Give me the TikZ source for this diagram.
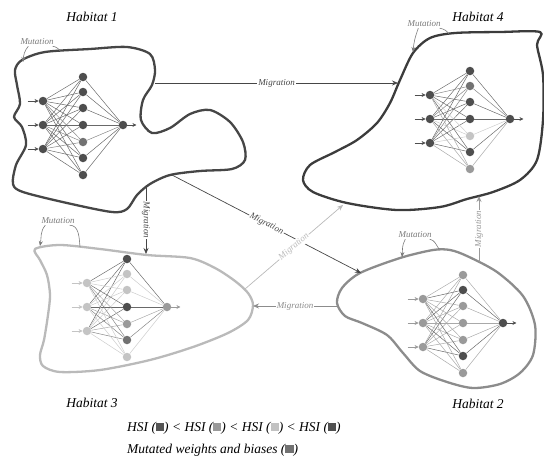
\documentclass[tikz,border=0pt]{standalone}
\usepackage{fontspec}
\setmainfont{Liberation Serif}
\usetikzlibrary{arrows.meta, positioning}

\definecolor{habone}{HTML}{464646}
\definecolor{habfour}{HTML}{3C3C3C}
\definecolor{habthree}{HTML}{BABABA}
\definecolor{habtwo}{HTML}{8C8C8C}
\definecolor{ndark}{HTML}{4E4E4E}
\definecolor{nmut}{HTML}{727272}
\definecolor{nmed}{HTML}{9A9A9A}
\definecolor{nlight}{HTML}{C4C4C4}
\definecolor{mutgray}{HTML}{7A7A7A}
\definecolor{hsiA}{HTML}{555555}
\definecolor{hsiB}{HTML}{9A9A9A}
\definecolor{hsiC}{HTML}{C2C2C2}
\definecolor{hsiD}{HTML}{505050}

\tikzstyle{habitat} = [line width=2.3pt, line join=round]
\tikzstyle{migration} = [line width=0.7pt, -{Stealth[length=6pt,width=5pt]}]
\tikzstyle{miglabel} = [fill=white, inner sep=1pt, font=\itshape\fontsize{9}{10}\selectfont]
\tikzstyle{mutlabel} = [text=mutgray, inner sep=1pt, font=\itshape\fontsize{9}{10}\selectfont]
\tikzstyle{mutarrow} = [mutgray, line width=0.6pt, -{Stealth[length=5pt,width=4pt]}]
\tikzstyle{mutline} = [mutgray, line width=0.6pt]
\tikzstyle{hablabel} = [font=\itshape\fontsize{13.5}{16}\selectfont]
\tikzstyle{legend} = [anchor=west, inner sep=0pt, font=\itshape\fontsize{13.5}{16}\selectfont]
\tikzstyle{neuron} = [circle, inner sep=0pt, minimum size=8.5pt]
\tikzstyle{synapse} = [line width=0.5pt]
\tikzstyle{io} = [line width=0.6pt, -{Stealth[length=4pt,width=4pt]}]

% small colour square for the legend
\newcommand{\hsq}[1]{\textcolor{#1}{\rule{0.6em}{0.6em}}}

% neural net: name, x, y of middle input, input colour, hidden colours, output colour
\newcommand{\network}[6]{
	\node[neuron, fill=#6] (#1out) at ({#2+80},{#3}) {};
	\foreach \dy [count=\i] in {-24,0,24}
		\node[neuron, fill=#4] (#1in\i) at ({#2},{#3+(\dy)}) {};
	\foreach \c [count=\j] in {#5} {
		\pgfmathsetmacro\dy{{-48,-33,-17,0,17,33,50}[\j-1]}
		\node[neuron, fill=\c] (#1hid\j) at ({#2+40},{#3+\dy}) {};
		\foreach \i in {1,2,3}
			\draw[synapse, \c!85] (#1in\i) -- (#1hid\j);
		\draw[synapse, \c!85] (#1hid\j) -- (#1out);
	}
	\foreach \i in {1,2,3}
		\draw[io, #4] ([xshift=-11pt]#1in\i.west) -- (#1in\i.west);
	\draw[io, #6] (#1out.east) -- ([xshift=9pt]#1out.east);
}

\begin{document}
\begin{tikzpicture}[x=1pt, y=-1pt]
\useasboundingbox (0,0) rectangle (544,461);
%----------------------------------------------------------------------------
% Habitat outlines
\draw[habitat, habone] plot[smooth cycle] coordinates {
	(22,60) (45,52) (90,49) (127,47) (150,54) (155,70) (152,85) (143,100)
	(141,120) (152,133) (170,128) (190,114) (210,110) (230,122) (243,142)
	(245,160) (232,169) (200,171) (170,175) (150,184) (137,195) (127,209)
	(112,212) (67,203) (23,192) (13,184) (16,165) (26,145) (22,127)
	(14,117) (20,104) (17,85) (15,70)};

\draw[habitat, habfour] plot[smooth cycle] coordinates {
	(413,53) (430,38) (455,33) (500,32) (540,32) (537,45) (543,75)
	(543,120) (537,160) (520,180) (493,192) (467,199) (440,207) (397,210)
	(347,203) (313,192) (303,180) (310,165) (335,152) (357,140) (377,123)
	(390,103) (400,80)};

\draw[habitat, habthree] plot[smooth cycle] coordinates {
	(35,249) (60,245) (100,249) (147,255) (190,258) (215,268) (235,281)
	(248,293) (253,305) (248,320) (228,333) (193,347) (150,360) (100,370)
	(60,372) (43,366) (40,355) (44,340) (48,315) (50,295) (47,275) (40,260)};

\draw[habitat, habtwo] plot[smooth cycle] coordinates {
	(360,273) (400,258) (433,250) (450,250) (467,256) (497,272) (523,296)
	(535,325) (533,355) (520,373) (500,384) (473,388) (447,382) (420,371)
	(403,353) (387,335) (362,323) (345,316) (337,303) (342,288)};

%----------------------------------------------------------------------------
% Habitat names
\node[hablabel] (nameone) at (92,17) {Habitat 1};
\node[hablabel] (namefour) at (478,17) {Habitat 4};
\node[hablabel] (namethree) at (92,403) {Habitat 3};
\node[hablabel] (nametwo) at (478,404) {Habitat 2};

%----------------------------------------------------------------------------
% Networks inside the habitats
\network{hone}{43}{125}{ndark}{ndark,ndark,ndark,ndark,nmut,ndark,ndark}{ndark}
\network{hfour}{430}{119}{ndark}{ndark,nmut,ndark,ndark,nlight,ndark,nmed}{ndark}
\network{hthree}{87}{307}{nlight}{ndark,nlight,nlight,ndark,nmed,nmut,nlight}{nmed}
\network{htwo}{423}{323}{nmed}{nmed,ndark,nmed,nmed,nmed,ndark,nmed}{ndark}

%----------------------------------------------------------------------------
% Migration end points on the outlines
\coordinate (oneeast) at (155,83);
\coordinate (onesouth) at (146,186);
\coordinate (onediag) at (172,175);
\coordinate (fourwest) at (398,83);
\coordinate (foursw) at (343,205);
\coordinate (foursouth) at (479,196);
\coordinate (threenorth) at (146,254);
\coordinate (threene) at (245,289);
\coordinate (threetip) at (253,306);
\coordinate (twonw) at (361,273);
\coordinate (twowest) at (337,306);
\coordinate (twonorth) at (479,262);

% Migration arrows
\draw[migration, habone] (oneeast) -- node[miglabel, text=habone] {Migration} (fourwest);
\draw[migration, habone] (onesouth) -- node[miglabel, text=habone, rotate=-90] {Migration} (threenorth);
\draw[migration, habone] (onediag) -- node[miglabel, text=habone, sloped] {Migration} (twonw);
\draw[migration, habthree] (threene) -- node[miglabel, text=habthree, sloped] {Migration} (foursw);
\draw[migration, habtwo] (twowest) -- node[miglabel, text=habtwo] {Migration} (threetip);
\draw[migration, nmed] (twonorth) -- node[miglabel, text=nmed, rotate=90] {Migration} (foursouth);

%----------------------------------------------------------------------------
% Mutation callouts
\node[mutlabel] (mutone) at (37,42) {Mutation};
\coordinate (mutonea) at (23,62);
\coordinate (mutoneb) at (61,52);
\draw[mutarrow] ([xshift=9pt]mutone.south west) to[out=230, in=85] (mutonea);
\draw[mutline] ([xshift=-2pt]mutone.south east) to[out=-10, in=125] (mutoneb);

\node[mutlabel] (mutfour) at (424,24) {Mutation};
\coordinate (mutfoura) at (413,52);
\coordinate (mutfourb) at (449,34);
\draw[mutarrow] ([xshift=12pt]mutfour.south west) to[out=250, in=85] (mutfoura);
\draw[mutline] ([xshift=-2pt]mutfour.south east) to[out=-10, in=125] (mutfourb);

\node[mutlabel] (mutthree) at (58,221) {Mutation};
\coordinate (mutthreea) at (40,246);
\coordinate (mutthreeb) at (80,247);
\draw[mutarrow] ([xshift=5pt]mutthree.south west) to[out=230, in=80] (mutthreea);
\draw[mutline] ([xshift=-6pt]mutthree.south east) to[out=0, in=95] (mutthreeb);

\node[mutlabel] (muttwo) at (415,235) {Mutation};
\coordinate (muttwoa) at (402,257);
\coordinate (muttwob) at (439,249);
\draw[mutarrow] ([xshift=8pt]muttwo.south west) to[out=240, in=85] (muttwoa);
\draw[mutline] ([xshift=-3pt]muttwo.south east) to[out=-10, in=125] (muttwob);

%----------------------------------------------------------------------------
% Legend
\node[legend] (hsi) at (127,428)
	{HSI (\hsq{hsiA}) < HSI (\hsq{hsiB}) < HSI (\hsq{hsiC}) < HSI (\hsq{hsiD})};
\node[legend] (mutated) at (127,450) {Mutated weights and biases (\hsq{nmut})};
\end{tikzpicture}
\end{document}
